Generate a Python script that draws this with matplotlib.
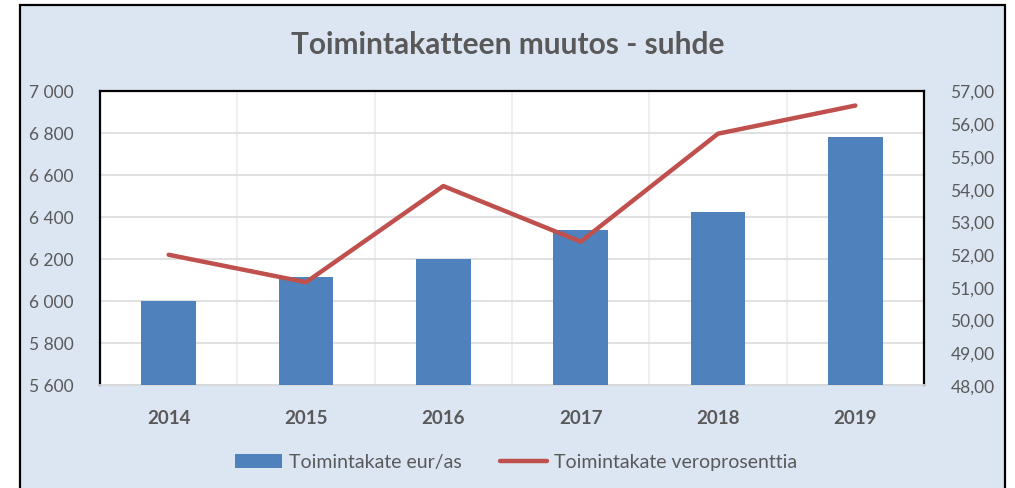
import matplotlib
matplotlib.use("Agg")
import matplotlib.pyplot as plt
from matplotlib.patches import Rectangle, Patch
from matplotlib.lines import Line2D
import numpy as np

years = ["2014", "2015", "2016", "2017", "2018", "2019"]
toimintakate_eur = [6000, 6114, 6200, 6337, 6423, 6777]
veroprosentti = [51.98, 51.14, 54.08, 52.38, 55.68, 56.54]
left_ticks = [5600, 5800, 6000, 6200, 6400, 6600, 6800, 7000]
right_ticks = [48, 49, 50, 51, 52, 53, 54, 55, 56, 57]
title = "Toimintakatteen muutos - suhde"
label_bar = "Toimintakate eur/as"
label_line = "Toimintakate veroprosenttia"

W, H = 1015, 489
FONT = ["Lato", "DejaVu Sans"]
TXT = "#595959"
BLUE = "#4F81BD"
RED = "#C0504D"
BG = "#DCE6F2"

plt.rcParams["font.family"] = FONT

fig = plt.figure(figsize=(W / 100, H / 100), dpi=100)
fig.patch.set_facecolor("white")

def fx(px):
    return px / W

def fy(py):
    return 1 - py / H

# outer chart frame
frame = Rectangle((fx(20), fy(520)), fx(1005) - fx(20), fy(6) - fy(520),
                  transform=fig.transFigure, facecolor=BG, edgecolor="black",
                  linewidth=1.6, zorder=-5)
fig.patches.append(frame)

L, R, T, B = 100, 924, 91.5, 386
ax = fig.add_axes([fx(L), fy(B), fx(R) - fx(L), fy(T) - fy(B)])
ax.set_facecolor("white")
x = np.arange(len(years))
ax.bar(x, toimintakate_eur, width=0.4, color=BLUE, zorder=3)
ax.set_xlim(-0.5, len(years) - 0.5)
ax.set_ylim(left_ticks[0], left_ticks[-1])
ax.set_yticks(left_ticks)
ax.set_yticklabels([f"{v:,}".replace(",", " ") for v in left_ticks])
ax.set_xticks(x)
ax.set_xticklabels(years, fontweight="bold")
ax.set_xticks(np.arange(-0.5, len(years) - 0.4, 0.5), minor=True)
ax.grid(True, axis="y", which="major", color="#D9D9D9", linewidth=1.1, zorder=0)
ax.grid(True, axis="x", which="minor", color="#EBEBEB", linewidth=1.1, zorder=0)
ax.set_axisbelow(True)
ax.tick_params(axis="both", which="both", length=0, colors=TXT)
ax.tick_params(axis="y", pad=19, labelsize=12.5)
ax.tick_params(axis="x", pad=17, labelsize=13.5)
for s in ["left", "top", "right"]:
    ax.spines[s].set_color("black")
    ax.spines[s].set_linewidth(1.6)
ax.spines["bottom"].set_color("#D9D9D9")
ax.spines["bottom"].set_linewidth(1.3)

ax2 = ax.twinx()
ax2.plot(x, veroprosentti, color=RED, linewidth=3.2, solid_capstyle="round",
         solid_joinstyle="round", zorder=4)
ax2.set_ylim(right_ticks[0], right_ticks[-1])
ax2.set_yticks(right_ticks)
ax2.set_yticklabels([f"{v:.2f}".replace(".", ",") for v in right_ticks])
ax2.tick_params(axis="y", length=0, colors=TXT, labelsize=12.5, pad=19)
for s in ax2.spines.values():
    s.set_visible(False)

fig.text(0.5, fy(45), title, ha="center", va="center", fontsize=21.5,
         fontweight="bold", color=TXT)

handles = [Patch(facecolor=BLUE, edgecolor="none"),
           Line2D([], [], color=RED, linewidth=3.2, solid_capstyle="round")]
leg = fig.legend(handles, [label_bar, label_line], loc="center",
                 bbox_to_anchor=(fx(516), fy(463)), ncol=2, frameon=False,
                 fontsize=14, handlelength=2.4, handletextpad=0.35,
                 columnspacing=2.0, labelcolor=TXT)

fig.savefig("out.png", dpi=100, facecolor="white")
